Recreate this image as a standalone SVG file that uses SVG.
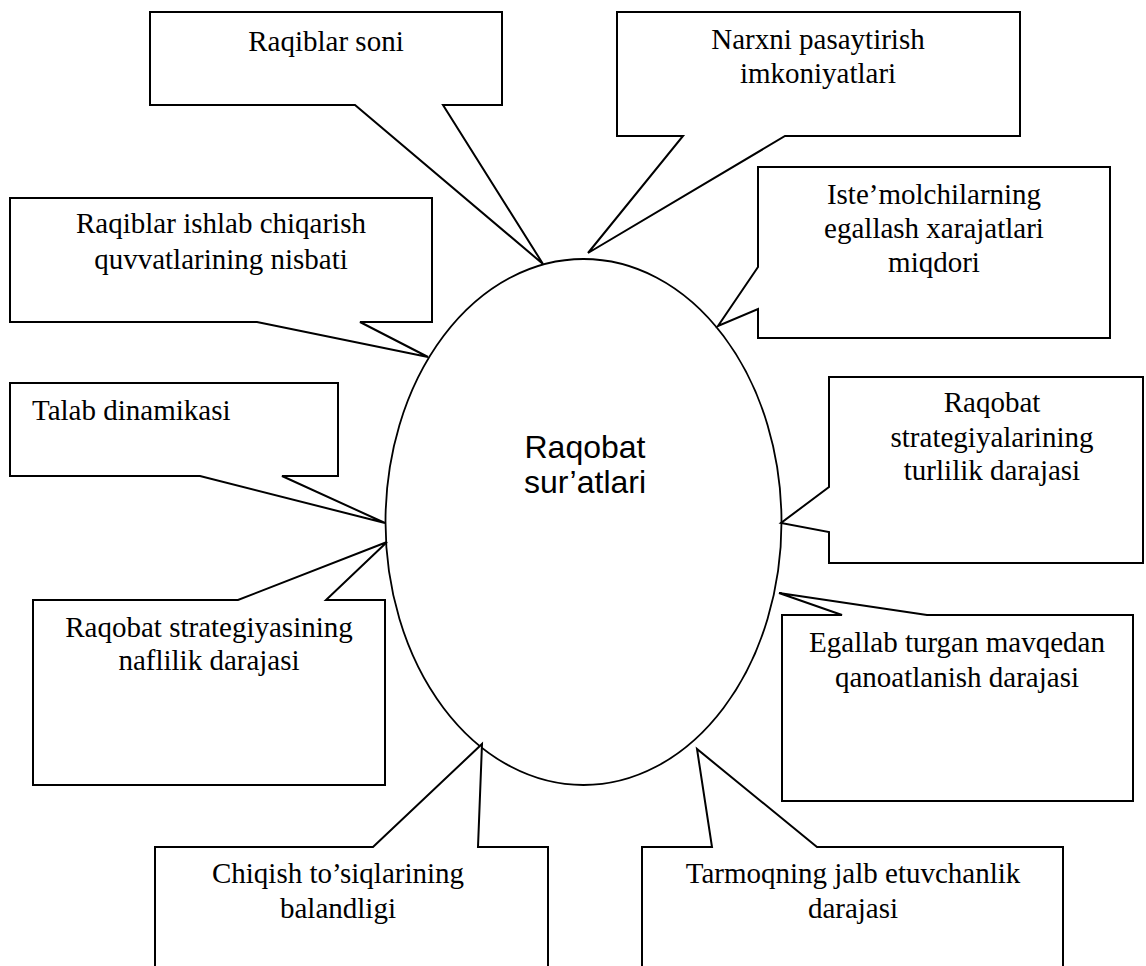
<svg xmlns="http://www.w3.org/2000/svg" width="1146" height="966" viewBox="0 0 1146 966">
<style>
.box{fill:#fff;stroke:#000;stroke-width:2;stroke-linejoin:miter}
.t{font-family:"Liberation Serif","Times New Roman",serif;font-size:29px;fill:#000;text-anchor:middle}
.c{font-family:"Liberation Sans",Arial,sans-serif;font-size:32px;fill:#000;text-anchor:middle}
</style>
<rect width="1146" height="966" fill="#fff"/>
<g id="center">
<ellipse cx="583.5" cy="522" rx="198" ry="263" fill="#fff" stroke="#000" stroke-width="1.8"/>
<text class="c" x="585" y="458">Raqobat</text>
<text class="c" x="585" y="493">sur’atlari</text>
</g>
<g id="connectors"></g>
<g id="n1">
<path class="box" d="M150,12 H502 V105 H443 L543,264 L355,105 H150 Z"/>
<text class="t" x="326" y="51">Raqiblar soni</text>
</g>
<g id="n2">
<path class="box" d="M617,12 H1020 V136 H785 L588,253 L683,136 H617 Z"/>
<text class="t" x="818" y="49">Narxni pasaytirish</text>
<text class="t" x="818" y="83">imkoniyatlari</text>
</g>
<g id="n3">
<path class="box" d="M758,167 H1110 V338 H758 V309 L718,326 L758,267 Z"/>
<text class="t" x="934" y="204">Iste’molchilarning</text>
<text class="t" x="934" y="238">egallash xarajatlari</text>
<text class="t" x="934" y="272">miqdori</text>
</g>
<g id="n4">
<path class="box" d="M829,377 H1143 V563 H829 V532 L781,523 L829,487 Z"/>
<text class="t" x="992" y="412">Raqobat</text>
<text class="t" x="992" y="447">strategiyalarining</text>
<text class="t" x="992" y="480">turlilik darajasi</text>
</g>
<g id="n5">
<path class="box" d="M10,198 H432 V322 H360 L428,357 L257,322 H10 Z"/>
<text class="t" x="221" y="233">Raqiblar ishlab chiqarish</text>
<text class="t" x="221" y="269">quvvatlarining nisbati</text>
</g>
<g id="n6">
<path class="box" d="M10,383 H338 V476 H282 L385,523 L200,476 H10 Z"/>
<text class="t" x="32" y="420" style="text-anchor:start">Talab dinamikasi</text>
</g>
<g id="n7">
<path class="box" d="M33,600 H238 L387,542 L326,600 H385 V785 H33 Z"/>
<text class="t" x="209" y="637">Raqobat strategiyasining</text>
<text class="t" x="209" y="670">naflilik darajasi</text>
</g>
<g id="n8">
<path class="box" d="M782,615 H842 L779,593 L927,615 H1133 V801 H782 Z"/>
<text class="t" x="957" y="652">Egallab turgan mavqedan</text>
<text class="t" x="957" y="687">qanoatlanish darajasi</text>
</g>
<g id="n9">
<path class="box" d="M155,972 V847 H373 L482,744 L478,847 H548 V972"/>
<text class="t" x="338" y="883">Chiqish to’siqlarining</text>
<text class="t" x="338" y="918">balandligi</text>
</g>
<g id="n10">
<path class="box" d="M642,972 V847 H712 L697,749 L817,847 H1063 V972"/>
<text class="t" x="853" y="883">Tarmoqning jalb etuvchanlik</text>
<text class="t" x="853" y="918">darajasi</text>
</g>
</svg>
